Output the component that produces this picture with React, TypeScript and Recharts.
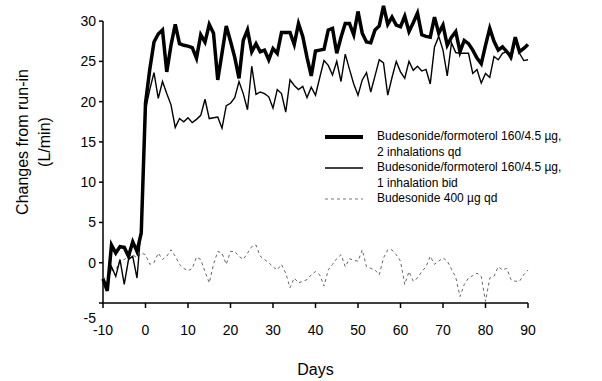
import { LineChart, Line, XAxis, YAxis, ReferenceLine } from 'recharts';

// daily values, day -10 .. day 90
const FIRST_DAY = -10;

const bidTwoQd = [
  -2.0, -3.5, 2.2, 1.2, 2.0, 1.9, 0.8, 2.6, 1.4, 3.7,
  19.8, 24.0, 27.4, 28.4, 28.9, 23.7, 27.0, 29.6, 27.2, 27.0,
  26.9, 26.7, 25.4, 28.3, 27.4, 29.6, 28.5, 22.7, 26.0, 29.4,
  27.5, 25.5, 22.9, 27.6, 28.9, 26.2, 27.2, 26.2, 26.4, 25.2,
  26.6, 26.0, 28.6, 28.6, 28.6, 27.1, 29.7, 28.1, 25.5, 23.2,
  26.3, 26.4, 26.5, 28.9, 29.1, 26.0, 28.0, 29.7, 29.7, 28.3,
  31.2, 28.5, 27.4, 27.3, 28.9, 29.4, 31.9, 29.6, 30.5, 29.5,
  29.3, 30.6, 28.7, 29.8, 31.0, 28.3, 28.1, 28.0, 30.5, 28.5,
  29.5, 27.0, 28.0, 28.7, 26.2, 27.6, 27.2, 26.4, 25.4, 24.7,
  27.0, 29.1, 27.5, 26.4, 26.8, 26.2, 25.6, 28.0, 26.2, 26.6,
  27.1,
];

const oneBid = [
  -2.1, -2.6, -0.5, -1.7, 0.4, -2.7, 0.4, 0.8, -1.9, 4.5,
  19.0, 21.5, 23.6, 20.4, 22.5, 21.0, 19.6, 16.8, 17.9, 17.5,
  18.0, 17.4, 17.8, 18.3, 20.3, 17.9, 18.0, 18.1, 16.7, 19.5,
  19.8, 20.5, 22.5, 21.0, 19.0, 24.4, 20.9, 21.2, 21.0, 20.6,
  19.2, 21.5, 21.0, 18.7, 22.7, 22.0, 21.5, 21.9, 20.5, 21.8,
  20.8, 23.0, 25.1, 24.5, 23.3, 25.0, 22.5, 25.9, 24.0, 22.2,
  20.8, 22.7, 23.6, 21.2, 23.2, 25.2, 24.8, 20.8, 23.0, 25.0,
  23.7, 22.9, 25.0, 23.9, 24.4, 23.8, 24.0, 22.2, 26.8, 28.1,
  26.4, 23.2, 27.3, 26.1, 26.0, 26.0, 26.0, 23.5, 24.0, 22.3,
  23.5, 23.0, 25.6, 25.2, 26.0, 26.2, 25.2, 27.6, 26.0, 25.1,
  25.2,
];

const budesonide = [
  -2.1, -1.5, -1.0, -0.9, 0.2, 0.4, 0.8, 1.0, 0.6, 1.2,
  1.0, -0.2, 0.0, 1.2, 0.4, 0.8, 1.6, 0.8, -0.2, -0.7,
  -1.0, -0.7, 0.7, 0.4, -1.1, -2.5, -0.2, 1.4, 1.2, -0.2,
  1.4, 1.4, 0.8, 0.4, 1.2, 2.0, 2.2, 0.8, 0.4, 0.0,
  -0.5, -0.9, -0.2, -1.3, -3.1, -1.9, -2.5, -2.3, -2.1, -1.5,
  -1.1, -1.5, -2.9, -0.9, -0.2, 0.5, 1.0, -0.5, 0.5, 0.3,
  0.2, 1.6, -0.5, -0.7, -0.9, -1.5, 0.6, 1.6, 1.6, 1.0,
  0.2, -2.7, -1.1, -2.3, -1.9, -1.1, -0.5, 0.8, -0.2, 0.2,
  0.6, 0.2, -0.8, -1.8, -4.2, -2.7, -1.9, -1.6, -1.3, -1.7,
  -4.8, -1.9, -1.7, -0.5, -0.9, -0.7, -2.1, -2.3, -2.3, -1.5,
  -0.9,
];

const xTicks = [-10, 0, 10, 20, 30, 40, 50, 60, 70, 80, 90];
const yTicks = [-5, 0, 5, 10, 15, 20, 25, 30];

const legendRows = [
  { lines: ['Budesonide/formoterol 160/4.5 µg,', '2 inhalations qd'], width: 4, dash: undefined, color: '#000' },
  { lines: ['Budesonide/formoterol 160/4.5 µg,', '1 inhalation bid'], width: 1.4, dash: undefined, color: '#000' },
  { lines: ['Budesonide 400 µg qd'], width: 1, dash: '3 3', color: '#777' },
];

const FONT = '"Liberation Sans", Arial, sans-serif';

const data = bidTwoQd.map((v, i) => ({
  day: FIRST_DAY + i,
  qd: v,
  bid: oneBid[i],
  bud: budesonide[i],
}));

const YTick = (props: any) => {
  const { x, y, payload } = props;
  // the -5 label sits lower in the original, above the -10 x label
  const shift = payload.value === -5 ? 15 : 0;
  return (
    <text x={x} y={y + shift} dy={5} textAnchor="end" fontSize={14} fontFamily={FONT} fill="#000">
      {payload.value}
    </text>
  );
};

const XTick = (props: any) => {
  const { x, y, payload } = props;
  return (
    <text x={x} y={y} dy={23} textAnchor="middle" fontSize={14} fontFamily={FONT} fill="#000">
      {payload.value}
    </text>
  );
};

const LegendBox = () => (
  <div style={{ fontFamily: FONT, fontSize: 12, color: '#000', lineHeight: '15.5px' }}>
    {legendRows.map((r, i) => (
      <div key={i} style={{ display: 'flex', alignItems: 'flex-start' }}>
        <svg width={54} height={15} style={{ flexShrink: 0 }}>
          <line x1={2} x2={40} y1={8} y2={8} stroke={r.color} strokeWidth={r.width} strokeDasharray={r.dash} />
        </svg>
        <div>
          {r.lines.map((t, j) => (
            <div key={j}>{t}</div>
          ))}
        </div>
      </div>
    ))}
  </div>
);

export default function App() {
  return (
    <div style={{ position: 'absolute', left: 0, top: 0, width: 602, height: 381, background: '#fff' }}>
      <LineChart
        width={602}
        height={381}
        data={data}
        margin={{ top: 5, right: 74, left: 63, bottom: 48 }}
      >
        <XAxis
          dataKey="day"
          type="number"
          domain={[-10, 90]}
          ticks={xTicks}
          interval={0}
          height={30}
          axisLine={{ stroke: '#000', strokeWidth: 1.5 }}
          tickLine={{ stroke: '#000', strokeWidth: 1.5 }}
          tickSize={5}
          tickMargin={4}
          tick={<XTick />}
          label={{
            value: 'Days',
            position: 'insideBottom',
            offset: -42,
            fontSize: 16,
            fontFamily: FONT,
            fill: '#000',
          }}
        />
        {/* domain runs a bit past 30 so peaks above the top tick stay visible */}
        <YAxis
          type="number"
          domain={[-5, 32]}
          ticks={yTicks}
          interval={0}
          width={40}
          axisLine={false}
          tickLine={{ stroke: '#000', strokeWidth: 1.5 }}
          tickSize={4}
          tickMargin={3}
          tick={<YTick />}
          label={{
            content: () => (
              <g fontFamily={FONT} fontSize={16} fill="#000">
                <text transform="translate(28,142) rotate(-90)" textAnchor="middle">Changes from run-in</text>
                <text transform="translate(50,142) rotate(-90)" textAnchor="middle">(L/min)</text>
              </g>
            ),
          }}
        />
        {/* y axis line stops at the 30 tick */}
        <ReferenceLine
          segment={[{ x: -10, y: -5 }, { x: -10, y: 30 }]}
          stroke="#000"
          strokeWidth={1.5}
        />
        <Line
          dataKey="bud"
          stroke="#666"
          strokeWidth={1}
          strokeDasharray="3 3"
          dot={false}
          isAnimationActive={false}
          type="linear"
        />
        <Line
          dataKey="bid"
          stroke="#000"
          strokeWidth={1.4}
          dot={false}
          isAnimationActive={false}
          type="linear"
        />
        <Line
          dataKey="qd"
          stroke="#000"
          strokeWidth={3.5}
          dot={false}
          isAnimationActive={false}
          type="linear"
        />
      </LineChart>
      <div style={{ position: 'absolute', left: 323, top: 129, width: 280 }}>
        <LegendBox />
      </div>
    </div>
  );
}
